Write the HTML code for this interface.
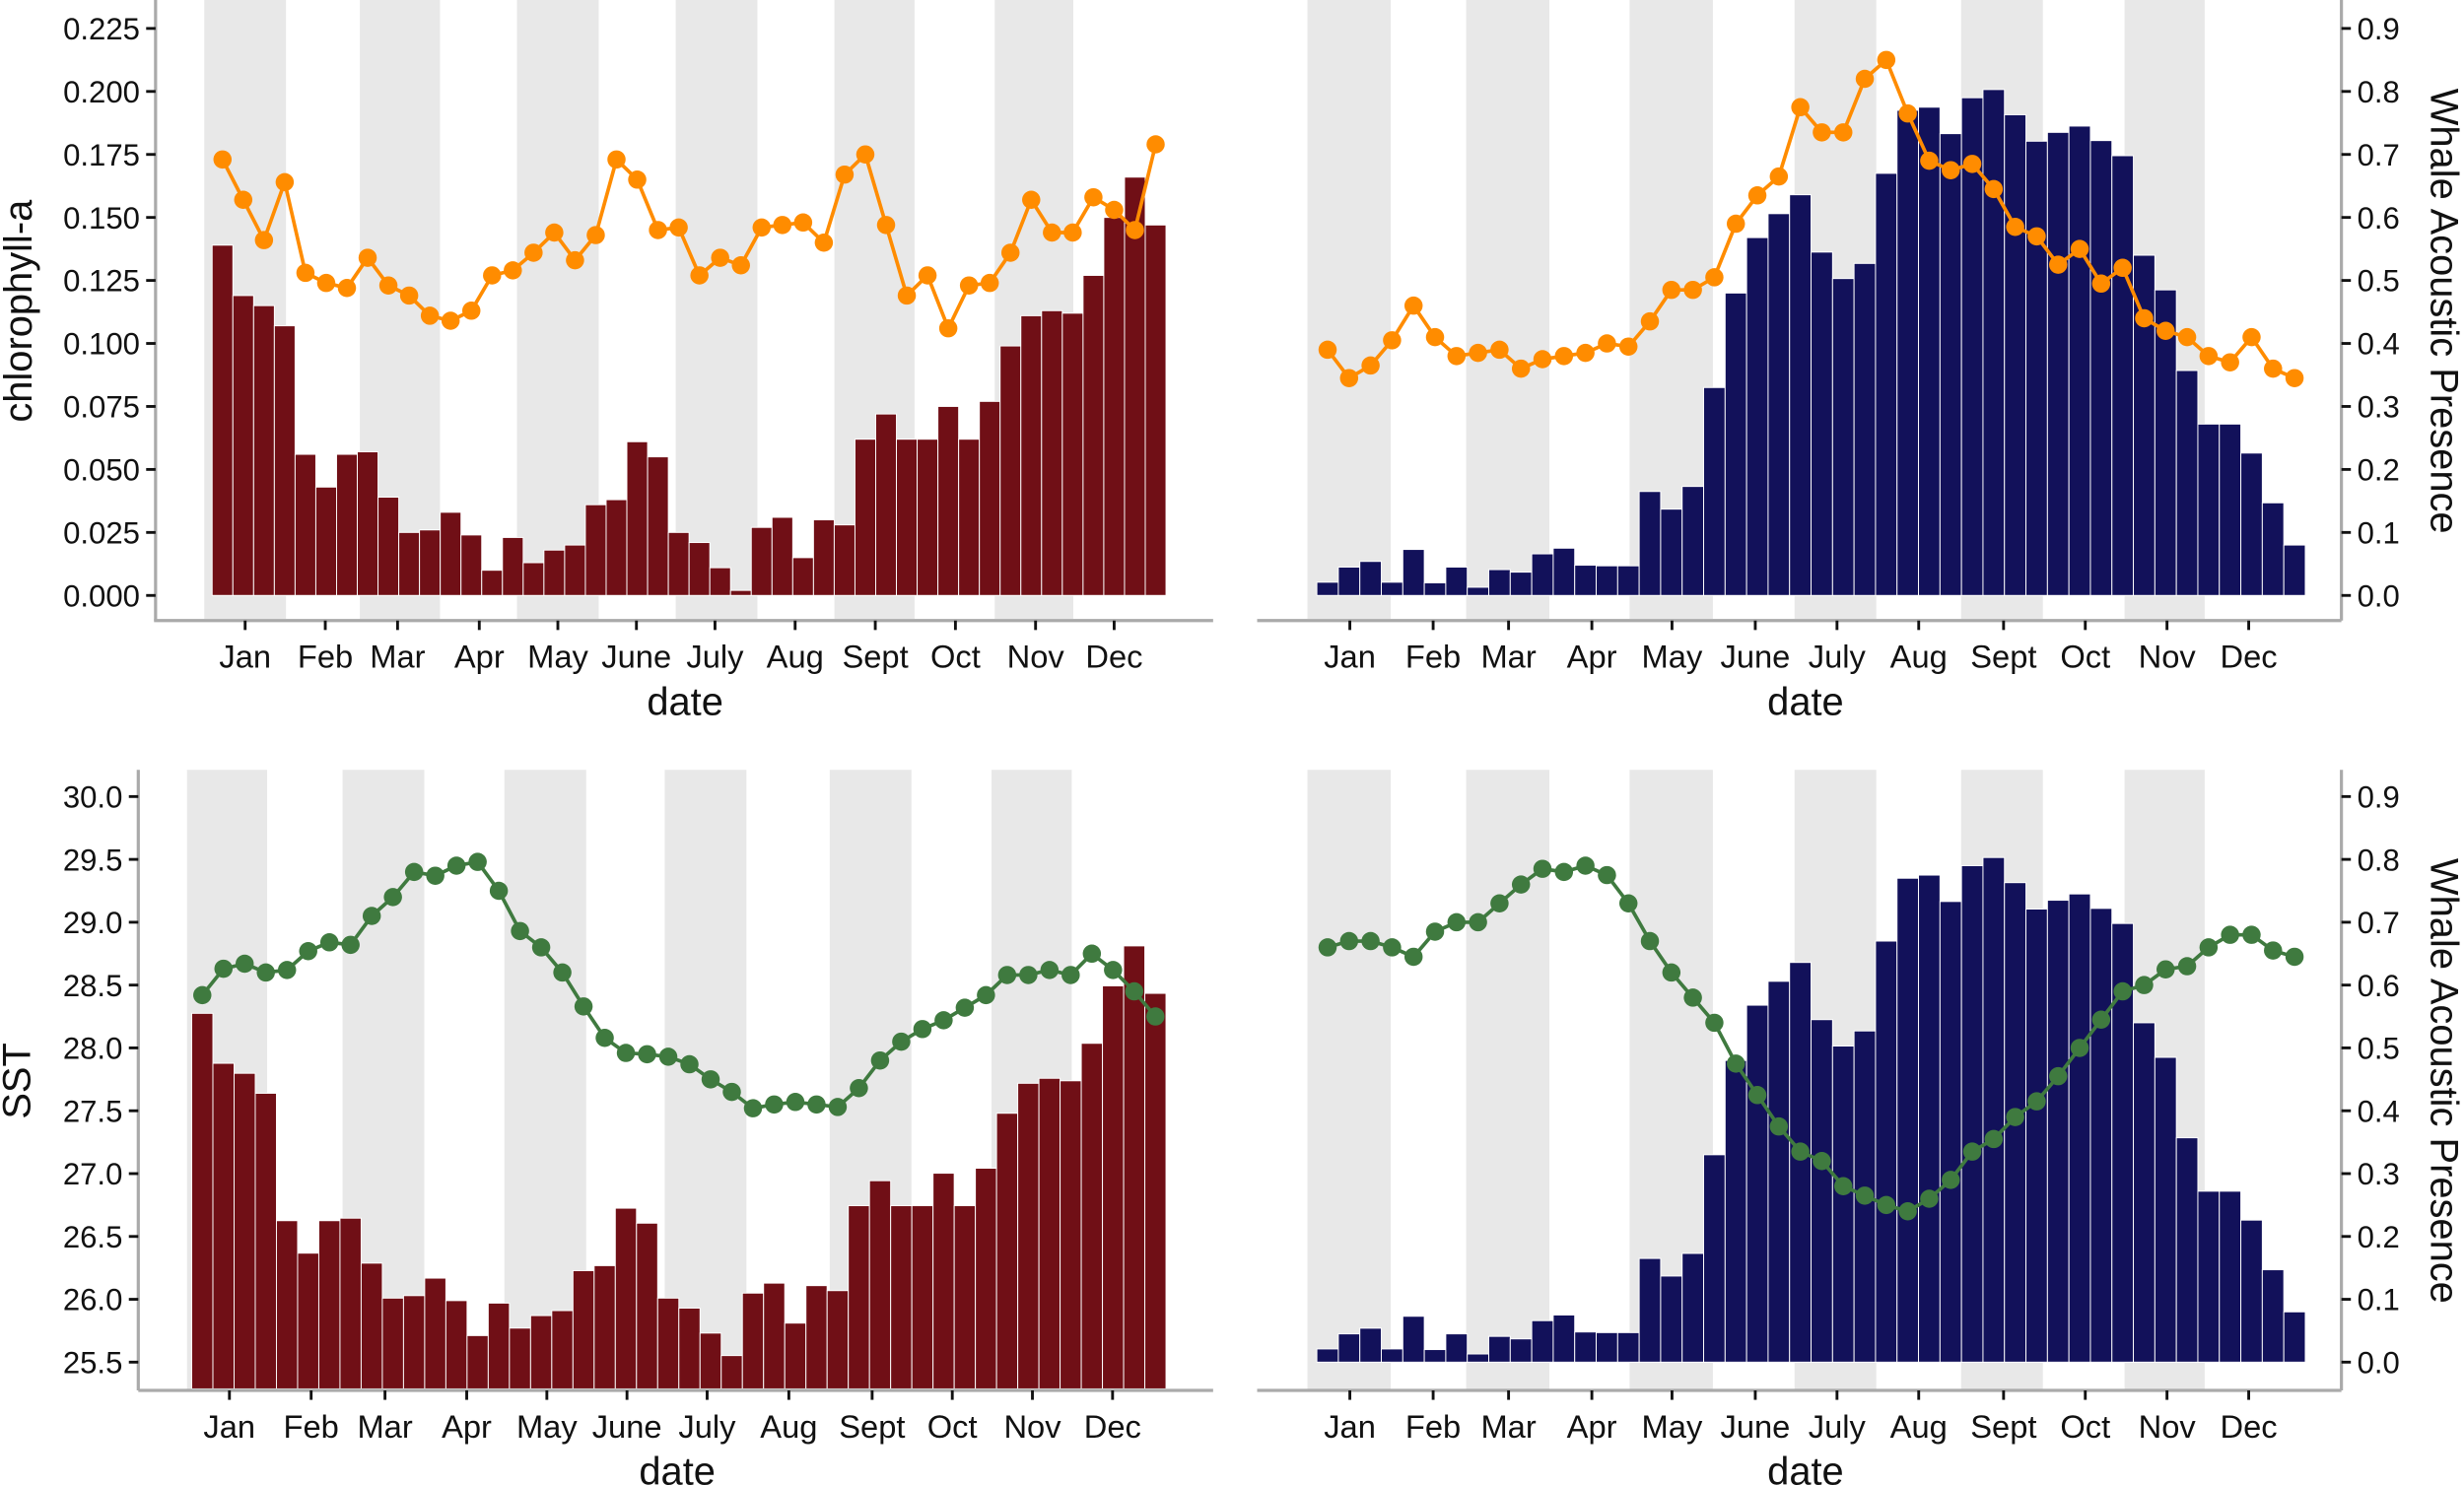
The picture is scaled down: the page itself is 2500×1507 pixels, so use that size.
<!DOCTYPE html>
<html><head><meta charset="utf-8"><style>
html,body{margin:0;padding:0;background:#fff;}
svg{display:block;}
text{font-family:"Liberation Sans",sans-serif;fill:#111;}
</style></head><body>
<svg id="s" width="2500" height="1507" viewBox="0 0 1568 945.2" preserveAspectRatio="none" xmlns="http://www.w3.org/2000/svg"></svg>
<script>
const S=document.getElementById('s');let h='';
const months=['Jan','Feb','Mar','Apr','May','June','July','Aug','Sept','Oct','Nov','Dec'];
const chlBar=[0.139,0.119,0.115,0.107,0.056,0.043,0.056,0.057,0.039,0.025,0.026,0.033,0.024,0.010,0.023,0.013,0.018,0.020,0.036,0.038,0.061,0.055,0.025,0.021,0.011,0.002,0.027,0.031,0.015,0.030,0.028,0.062,0.072,0.062,0.062,0.075,0.062,0.077,0.099,0.111,0.113,0.112,0.127,0.150,0.166,0.147];
const chlLine=[0.173,0.157,0.141,0.164,0.128,0.124,0.122,0.134,0.123,0.119,0.111,0.109,0.113,0.127,0.129,0.136,0.144,0.133,0.143,0.173,0.165,0.145,0.146,0.127,0.134,0.131,0.146,0.147,0.148,0.140,0.167,0.175,0.147,0.119,0.127,0.106,0.123,0.124,0.136,0.157,0.144,0.144,0.158,0.153,0.145,0.179];
const wh=[0.021,0.045,0.054,0.021,0.073,0.020,0.045,0.013,0.041,0.037,0.066,0.075,0.048,0.047,0.047,0.165,0.137,0.173,0.330,0.48,0.568,0.606,0.636,0.545,0.503,0.527,0.670,0.770,0.775,0.733,0.790,0.803,0.763,0.721,0.735,0.745,0.722,0.698,0.540,0.485,0.357,0.272,0.272,0.226,0.147,0.080];
const orR=[0.39,0.345,0.365,0.405,0.46,0.41,0.38,0.385,0.39,0.36,0.375,0.38,0.385,0.40,0.395,0.435,0.485,0.485,0.505,0.59,0.635,0.665,0.775,0.735,0.735,0.82,0.85,0.765,0.69,0.675,0.685,0.645,0.585,0.57,0.525,0.55,0.495,0.52,0.44,0.42,0.41,0.38,0.37,0.41,0.36,0.345];
const sst=[28.42,28.63,28.67,28.6,28.62,28.77,28.84,28.82,29.05,29.2,29.4,29.37,29.45,29.48,29.25,28.93,28.8,28.6,28.33,28.08,27.96,27.95,27.93,27.87,27.75,27.65,27.52,27.55,27.57,27.55,27.53,27.68,27.9,28.05,28.15,28.22,28.32,28.42,28.58,28.58,28.62,28.58,28.75,28.62,28.45,28.25];
const grR=[0.66,0.67,0.67,0.66,0.645,0.685,0.70,0.70,0.73,0.76,0.785,0.78,0.79,0.775,0.73,0.67,0.62,0.58,0.54,0.475,0.425,0.375,0.335,0.32,0.28,0.265,0.25,0.24,0.26,0.29,0.335,0.355,0.39,0.415,0.455,0.50,0.545,0.59,0.60,0.625,0.63,0.66,0.68,0.68,0.655,0.645];
function panel(o){
 o.bands.forEach(b=>h+=`<rect x="${b[0]}" y="${o.top}" width="${b[1]-b[0]}" height="${o.axY-o.top-1}" fill="#e8e8e8"/>`);
 const w=(o.bx1-o.bx0)/46;
 o.bars.forEach((v,i)=>{const t=o.barY(v);h+=`<rect x="${o.bx0+i*w}" y="${t}" width="${w}" height="${o.barBase-t}" fill="${o.bc}" stroke="#fff" stroke-width="0.6"/>`;});
 const pts=o.line.map((v,i)=>[o.bx0+(i+0.5)*w,o.lineY(v)]);
 h+=`<polyline points="${pts.map(p=>p.join(',')).join(' ')}" fill="none" stroke="${o.lc}" stroke-width="2.3"/>`;
 pts.forEach(p=>h+=`<circle cx="${p[0]}" cy="${p[1]}" r="5.8" fill="${o.lc}"/>`);
 h+=`<line x1="${o.ax0}" y1="${o.axY}" x2="${o.ax1}" y2="${o.axY}" stroke="#aaa" stroke-width="2"/>`;
 h+=`<line x1="${o.yx}" y1="${o.top}" x2="${o.yx}" y2="${o.axY}" stroke="#aaa" stroke-width="2"/>`;
 o.ml.forEach((x,i)=>{h+=`<line x1="${x}" y1="${o.axY}" x2="${x}" y2="${o.axY+6}" stroke="#111" stroke-width="1.8"/>`;
  h+=`<text x="${x}" y="${o.axY+30}" font-size="20.5" text-anchor="middle">${months[i]}</text>`;});
 h+=`<text x="${o.dateX}" y="${o.axY+60}" font-size="25" text-anchor="middle">date</text>`;
 o.yt.forEach(t=>{const y=t[1];
  if(o.right){h+=`<line x1="${o.yx}" y1="${y}" x2="${o.yx+6}" y2="${y}" stroke="#111" stroke-width="1.8"/><text x="${o.yx+10}" y="${y+7}" font-size="19.5">${t[0]}</text>`;}
  else{h+=`<line x1="${o.yx-6}" y1="${y}" x2="${o.yx}" y2="${y}" stroke="#111" stroke-width="1.8"/><text x="${o.yx-10}" y="${y+7}" font-size="19.5" text-anchor="end">${t[0]}</text>`;}
 });
}
const bandsL=[[130,182],[229,280],[329,381],[430,482],[531,582],[633,683]];
const bandsR=[[832,885],[933,986],[1037,1090],[1142,1194],[1248,1300],[1352,1403]];
const mlR=[859,912,960,1013,1064,1117,1169,1221,1275,1327,1379,1431];
let ytc=[];for(let i=0;i<=9;i++)ytc.push([(i*0.025).toFixed(3),379-i*40.1]);
let ytw=[];for(let i=0;i<=9;i++)ytw.push([(i/10).toFixed(1),379-i*40.1]);
panel({top:0,axY:395,ax0:98,ax1:772,yx:99,bands:bandsL,bx0:135,bx1:742,bars:chlBar,barY:v=>379-v*1604,barBase:379,bc:'#700f16',line:chlLine,lineY:v=>379-v*1604,lc:'#ff8c00',ml:[156,207,253,305,355,405,455,506,557,608,659,709],dateX:436,yt:ytc});
panel({top:0,axY:395,ax0:800,ax1:1490,yx:1490,right:1,bands:bandsR,bx0:838,bx1:1467,bars:wh,barY:v=>379-v*401,barBase:379,bc:'#12115a',line:orR,lineY:v=>379-v*401,lc:'#ff8c00',ml:mlR,dateX:1149,yt:ytw});
let yts=[];for(let i=0;i<=9;i++)yts.push([(25.5+i*0.5).toFixed(1),867-i*40]);
panel({top:490,axY:885,ax0:88,ax1:772,yx:88,bands:[[119,170],[218,270],[321,373],[423,475],[528,580],[631,682]],bx0:122,bx1:742,bars:chlBar,barY:v=>866-v*1590,barBase:884,bc:'#700f16',line:sst,lineY:v=>867-(v-25.5)*80,lc:'#3f7a3f',ml:[146,198,245,297,348,399,450,502,555,606,657,708],dateX:431,yt:yts});
let ytw2=[];for(let i=0;i<=9;i++)ytw2.push([(i/10).toFixed(1),867-i*40]);
panel({top:490,axY:885,ax0:800,ax1:1490,yx:1490,right:1,bands:bandsR,bx0:838,bx1:1467,bars:wh,barY:v=>867-v*400,barBase:867,bc:'#12115a',line:grR,lineY:v=>867-v*400,lc:'#3f7a3f',ml:mlR,dateX:1149,yt:ytw2});
h+=`<text transform="translate(20,198) rotate(-90)" font-size="25" text-anchor="middle">chlorophyll-a</text>`;
h+=`<text transform="translate(19,688) rotate(-90)" font-size="25" text-anchor="middle">SST</text>`;
h+=`<text transform="translate(1547,198) rotate(90)" font-size="25" text-anchor="middle">Whale Acoustic Presence</text>`;
h+=`<text transform="translate(1547,688) rotate(90)" font-size="25" text-anchor="middle">Whale Acoustic Presence</text>`;
S.innerHTML=h;
</script>
</body></html>
